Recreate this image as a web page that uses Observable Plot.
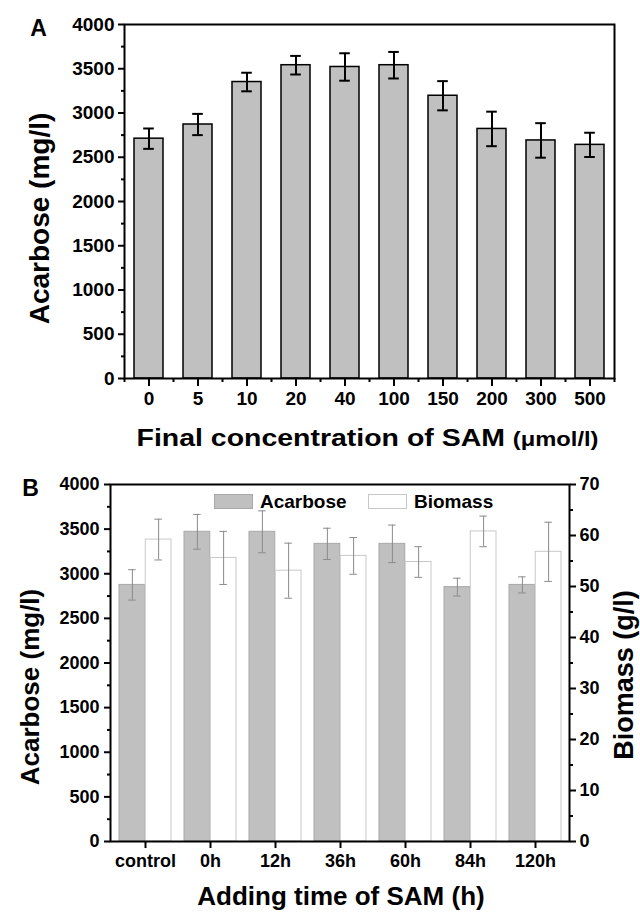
<!DOCTYPE html>
<html>
<head>
<meta charset="utf-8">
<script src="https://cdn.jsdelivr.net/npm/d3@7"></script>
<script src="https://cdn.jsdelivr.net/npm/@observablehq/plot@0.6"></script>
<style>
  html, body { margin: 0; padding: 0; background: #fff; }
  #wrap { position: relative; width: 640px; height: 913px; overflow: hidden;
          font-family: "Liberation Sans", Arial, Helvetica, sans-serif; }
  #wrap svg { display: block; }
  .leg-swatch { position: absolute; height: 15px; width: 39px; box-sizing: border-box; }
  .leg-text { position: absolute; font-weight: bold; font-size: 19px; line-height: 19px; color: #000; }
</style>
</head>
<body>
<div id="wrap"></div>
<script>
// ---------------- Panel A data ----------------
const concentrations = ["0", "5", "10", "20", "40", "100", "150", "200", "300", "500"];
const acarboseA      = [2710, 2870, 3350, 3540, 3520, 3540, 3195, 2820, 2690, 2640];
const acarboseAErr   = [115, 120, 105, 105, 155, 150, 165, 195, 195, 137];
const yTicksA        = [0, 500, 1000, 1500, 2000, 2500, 3000, 3500, 4000];
const yMinorTicksA   = [250, 750, 1250, 1750, 2250, 2750, 3250, 3750];
const yLabelA        = "Acarbose (mg/l)";
const xTitleAMain    = "Final concentration of SAM";
const xTitleAUnit    = "(μmol/l)";

// ---------------- Panel B data ----------------
const addingTimes    = ["control", "0h", "12h", "36h", "60h", "84h", "120h"];
const acarboseB      = [2875, 3470, 3470, 3335, 3335, 2850, 2875];
const acarboseBErr   = [170, 195, 235, 175, 210, 100, 90];
const biomassB       = [59.2, 55.6, 53.1, 56.0, 54.8, 60.8, 56.8];
const biomassBErr    = [4.0, 5.2, 5.4, 3.6, 3.0, 3.0, 5.8];
const yTicksB        = [0, 500, 1000, 1500, 2000, 2500, 3000, 3500, 4000];
const yMinorTicksB   = [250, 750, 1250, 1750, 2250, 2750, 3250, 3750];
const biomassTicks   = [0, 10, 20, 30, 40, 50, 60, 70];
const biomassMinor   = [5, 15, 25, 35, 45, 55, 65];
const yLabelB        = "Acarbose (mg/l)";
const y2LabelB       = "Biomass (g/l)";
const xTitleB        = "Adding time of SAM (h)";
const seriesNames    = ["Acarbose", "Biomass"];

const FONT = '"Liberation Sans", Arial, Helvetica, sans-serif';
const wrap = document.getElementById("wrap");
const plain = d => String(d);

// ================= Panel A =================
const A = {width: 640, height: 460, ml: 124, mr: 26, mt: 24, mb: 82, pi: 0.4, po: 0.2};
const stepA = (A.width - A.ml - A.mr) / (concentrations.length - A.pi + 2 * A.po);
const bwA = stepA * (1 - A.pi);
const capA = 11;
const dataA = concentrations.map((c, i) => ({c, v: acarboseA[i], e: acarboseAErr[i]}));

const plotA = Plot.plot({
  width: A.width, height: A.height,
  marginLeft: A.ml, marginRight: A.mr, marginTop: A.mt, marginBottom: A.mb,
  style: {fontFamily: FONT, background: "white", color: "black", overflow: "visible"},
  x: {domain: concentrations, paddingInner: A.pi, paddingOuter: A.po, axis: null},
  y: {domain: [0, 4000], axis: null},
  marks: [
    Plot.barY(dataA, {x: "c", y: "v", fill: "#c0c0c0", stroke: "black", strokeWidth: 1.5}),
    Plot.ruleX(dataA, {x: "c", y1: d => d.v - d.e, y2: d => d.v + d.e, stroke: "black", strokeWidth: 2}),
    Plot.tickY(dataA, {x: "c", y: d => d.v + d.e, stroke: "black", strokeWidth: 2,
      insetLeft: (bwA - capA) / 2, insetRight: (bwA - capA) / 2}),
    Plot.tickY(dataA, {x: "c", y: d => d.v - d.e, stroke: "black", strokeWidth: 2,
      insetLeft: (bwA - capA) / 2, insetRight: (bwA - capA) / 2}),
    Plot.frame({stroke: "black", strokeWidth: 2}),
    Plot.axisY(yTicksA, {anchor: "left", tickSize: 6, tickPadding: 4, strokeWidth: 2,
      fontSize: 19, fontWeight: "bold", tickFormat: plain, label: null}),
    Plot.axisY(yMinorTicksA, {anchor: "left", tickSize: 3, strokeWidth: 2, tickFormat: () => "", label: null}),
    Plot.axisX(concentrations, {anchor: "bottom", tickSize: 8, tickPadding: 5, strokeWidth: 2,
      fontSize: 19, fontWeight: "bold", label: null}),
    Plot.axisX(concentrations, {anchor: "bottom", tickSize: 4, strokeWidth: 2, dx: -stepA / 2,
      tickFormat: () => "", label: null}),
    Plot.axisX(concentrations.slice(-1), {anchor: "bottom", tickSize: 4, strokeWidth: 2, dx: stepA / 2,
      tickFormat: () => "", label: null}),
    Plot.text([yLabelA], {frameAnchor: "left", text: d => d, rotate: -90, dx: -84, dy: 17,
      fontSize: 28, fontWeight: "bold", textAnchor: "middle", lineAnchor: "middle"}),
    Plot.text([xTitleAMain + " " + xTitleAUnit], {frameAnchor: "bottom", text: d => d, dy: 60, dx: -2,
      fontSize: 24, fontWeight: "bold", textAnchor: "middle", lineAnchor: "middle"}),
    Plot.text(["A"], {frameAnchor: "top-left", text: d => d, dx: -86, dy: 4,
      fontSize: 23, fontWeight: "bold", textAnchor: "middle", lineAnchor: "middle"})
  ]
});
// smaller unit part of the x title, stretched to the reference's width
d3.select(plotA).selectAll("text")
  .filter(function () { return this.textContent === xTitleAMain + " " + xTitleAUnit; })
  .each(function () {
    const t = d3.select(this);
    t.text(null);
    t.append("tspan").text(xTitleAMain + " ");
    t.append("tspan").attr("font-size", 20).text(xTitleAUnit);
    t.attr("textLength", 462).attr("lengthAdjust", "spacingAndGlyphs");
  });
wrap.appendChild(plotA);

// ================= Panel B =================
const B = {width: 640, height: 453, ml: 110, mr: 71, mt: 24, mb: 72, pi: 0.2, po: 0.1};
const stepB = (B.width - B.ml - B.mr) / (addingTimes.length - B.pi + 2 * B.po);
const bwB = stepB * (1 - B.pi);
const capB = 8;
const k = 4000 / 70; // biomass (g/l) -> acarbose axis units
const dataB = addingTimes.map((t, i) => ({
  t, a: acarboseB[i], ae: acarboseBErr[i], b: biomassB[i], be: biomassBErr[i]
}));
const errColor = "#8a8a8a";

const plotB = Plot.plot({
  width: B.width, height: B.height,
  marginLeft: B.ml, marginRight: B.mr, marginTop: B.mt, marginBottom: B.mb,
  style: {fontFamily: FONT, background: "white", color: "black", overflow: "visible"},
  x: {domain: addingTimes, paddingInner: B.pi, paddingOuter: B.po, axis: null},
  y: {domain: [0, 4000], axis: null},
  marks: [
    Plot.barY(dataB, {x: "t", y: "a", insetRight: bwB / 2, fill: "#c0c0c0", stroke: "#a8a8a8", strokeWidth: 1}),
    Plot.barY(dataB, {x: "t", y: d => d.b * k, insetLeft: bwB / 2, fill: "white", stroke: "#c8c8c8", strokeWidth: 1}),
    // acarbose error bars
    Plot.ruleX(dataB, {x: "t", y1: d => d.a - d.ae, y2: d => d.a + d.ae, dx: -bwB / 4, stroke: errColor, strokeWidth: 1}),
    Plot.tickY(dataB, {x: "t", y: d => d.a + d.ae, stroke: errColor, strokeWidth: 1,
      insetLeft: bwB / 4 - capB / 2, insetRight: 3 * bwB / 4 - capB / 2}),
    Plot.tickY(dataB, {x: "t", y: d => d.a - d.ae, stroke: errColor, strokeWidth: 1,
      insetLeft: bwB / 4 - capB / 2, insetRight: 3 * bwB / 4 - capB / 2}),
    // biomass error bars
    Plot.ruleX(dataB, {x: "t", y1: d => (d.b - d.be) * k, y2: d => (d.b + d.be) * k, dx: bwB / 4, stroke: errColor, strokeWidth: 1}),
    Plot.tickY(dataB, {x: "t", y: d => (d.b + d.be) * k, stroke: errColor, strokeWidth: 1,
      insetLeft: 3 * bwB / 4 - capB / 2, insetRight: bwB / 4 - capB / 2}),
    Plot.tickY(dataB, {x: "t", y: d => (d.b - d.be) * k, stroke: errColor, strokeWidth: 1,
      insetLeft: 3 * bwB / 4 - capB / 2, insetRight: bwB / 4 - capB / 2}),
    Plot.frame({stroke: "black", strokeWidth: 2}),
    Plot.axisY(yTicksB, {anchor: "left", tickSize: 6, tickPadding: 5, strokeWidth: 2,
      fontSize: 18, fontWeight: "bold", tickFormat: plain, label: null}),
    Plot.axisY(yMinorTicksB, {anchor: "left", tickSize: 3, strokeWidth: 2, tickFormat: () => "", label: null}),
    Plot.axisY(biomassTicks, {anchor: "right", y: d => d * k, tickSize: 6, tickPadding: 4, strokeWidth: 2,
      fontSize: 18, fontWeight: "bold", tickFormat: plain, label: null}),
    Plot.axisY(biomassMinor, {anchor: "right", y: d => d * k, tickSize: 3, strokeWidth: 2,
      tickFormat: () => "", label: null}),
    Plot.axisX(addingTimes, {anchor: "bottom", tickSize: 7, tickPadding: 6, strokeWidth: 2,
      fontSize: 18, fontWeight: "bold", label: null}),
    Plot.text([yLabelB], {frameAnchor: "left", text: d => d, rotate: -90, dx: -80, dy: 24,
      fontSize: 26, fontWeight: "bold", textAnchor: "middle", lineAnchor: "middle"}),
    Plot.text([y2LabelB], {frameAnchor: "right", text: d => d, rotate: -90, dx: 55, dy: 12,
      fontSize: 27, fontWeight: "bold", textAnchor: "middle", lineAnchor: "middle"}),
    Plot.text([xTitleB], {frameAnchor: "bottom", text: d => d, dy: 55, dx: 1,
      fontSize: 26, fontWeight: "bold", textAnchor: "middle", lineAnchor: "middle"}),
    Plot.text(["B"], {frameAnchor: "top-left", text: d => d, dx: -80, dy: 4,
      fontSize: 23, fontWeight: "bold", textAnchor: "middle", lineAnchor: "middle"})
  ]
});
wrap.appendChild(plotB);

// ---- legend for panel B (HTML, positioned over the plot) ----
const legendItems = [
  {name: seriesNames[0], fill: "#c0c0c0", stroke: "#a8a8a8", left: 214},
  {name: seriesNames[1], fill: "#ffffff", stroke: "#c8c8c8", left: 368}
];
legendItems.forEach(it => {
  const sw = document.createElement("div");
  sw.className = "leg-swatch";
  sw.style.left = it.left + "px";
  sw.style.top = "494px";
  sw.style.background = it.fill;
  sw.style.border = "1px solid " + it.stroke;
  wrap.appendChild(sw);
  const tx = document.createElement("div");
  tx.className = "leg-text";
  tx.style.left = (it.left + 46) + "px";
  tx.style.top = "492px";
  tx.textContent = it.name;
  wrap.appendChild(tx);
});
</script>
</body>
</html>
